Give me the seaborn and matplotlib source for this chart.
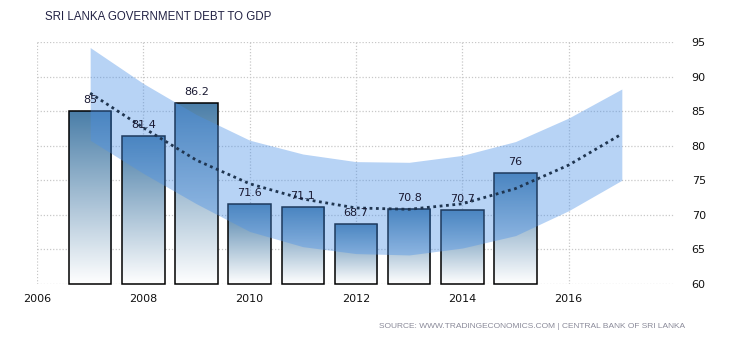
import numpy as np
import pandas as pd
import matplotlib
matplotlib.use("Agg")
import matplotlib.pyplot as plt
import seaborn as sns
from matplotlib.colors import LinearSegmentedColormap

# ---- data ----
years = [2007, 2008, 2009, 2010, 2011, 2012, 2013, 2014, 2015]
debt = [85.0, 81.4, 86.2, 71.6, 71.1, 68.7, 70.8, 70.7, 76.0]
labels = ["85", "81.4", "86.2", "71.6", "71.1", "68.7", "70.8", "70.7", "76"]

trend_years = [2007, 2008, 2009, 2010, 2011, 2012, 2013, 2014, 2015, 2016, 2017]
trend = [87.6, 82.6, 77.9, 74.5, 72.3, 71.0, 70.8, 71.6, 73.8, 77.2, 81.7]
band_upper = [94.2, 89.0, 84.5, 80.8, 78.8, 77.7, 77.6, 78.6, 80.6, 84.0, 88.2]
band_lower = [80.8, 76.0, 71.6, 67.6, 65.4, 64.4, 64.2, 65.2, 67.0, 70.6, 75.0]

xticks = [2006, 2008, 2010, 2012, 2014, 2016]
yticks = [60, 65, 70, 75, 80, 85, 90, 95]
YMIN, YMAX = 60, 95

sns.set_theme(style="white")
plt.rcParams['font.family'] = ['DejaVu Sans']

fig = plt.figure(figsize=(7.3, 3.4), dpi=100)
ax = fig.add_axes([37/730, 1-284/340, (675-37)/730, (284-42)/340])

df = pd.DataFrame({"year": years, "debt": debt})
sns.barplot(data=df, x="year", y="debt", native_scale=True, width=0.8,
            ax=ax, color="#4a7ea8", edgecolor="black", linewidth=1.1, zorder=2)

ax.set_xlim(2006, 2018)
ax.set_ylim(YMIN, YMAX)

cmap = LinearSegmentedColormap.from_list("g", ["#ffffff", "#4a7ea8"])
grad = np.linspace(0, 1, 256).reshape(-1, 1)
for p in list(ax.patches):
    x0, y0 = p.get_x(), p.get_y()
    w, h = p.get_width(), p.get_height()
    top = y0 + h
    p.set_y(YMIN)
    p.set_height(top - YMIN)
    p.set_clip_on(False)
    im = ax.imshow(grad, cmap=cmap, origin="lower", aspect="auto",
                   extent=[x0, x0 + w, YMIN, top], zorder=2, interpolation="bilinear")
    im.set_clip_path(p)
    p.set_facecolor("none")
    p.set_zorder(2.5)
ax.set_xlim(2006, 2018)
ax.set_ylim(YMIN, YMAX)

ax.fill_between(trend_years, band_lower, band_upper, color="#4b91e8", alpha=0.4,
                linewidth=0, zorder=3)
tdf = pd.DataFrame({"year": trend_years, "trend": trend})
sns.lineplot(data=tdf, x="year", y="trend", ax=ax, color="#1f3550",
             linestyle=(0, (1, 1.3)), linewidth=2.0, zorder=4)

for x, v, t in zip(years, debt, labels):
    ax.text(x, v + 0.9, t, ha="center", va="bottom", fontsize=8,
            color="#1a1a33", zorder=5)

ax.set_xticks(xticks)
ax.set_xticklabels([str(t) for t in xticks])
ax.set_yticks(yticks)
ax.yaxis.tick_right()
ax.tick_params(axis="both", length=0, labelsize=8, colors="#111111")
ax.tick_params(axis="x", pad=7)
ax.tick_params(axis="y", pad=12)
ax.grid(True, color="#c8c8c8", linestyle=(0, (1, 1.5)), linewidth=0.9, zorder=0)
ax.set_axisbelow(True)
for s in ax.spines.values():
    s.set_visible(False)
ax.set_xlabel("")
ax.set_ylabel("")

fig.text(45/730, 1-17/340, "SRI LANKA GOVERNMENT DEBT TO GDP", fontsize=8.3,
         color="#222244", va="center", ha="left", family=["Liberation Sans"])
fig.text(685/730, 1-326/340,
         "SOURCE: WWW.TRADINGECONOMICS.COM | CENTRAL BANK OF SRI LANKA",
         fontsize=6, color="#8a8a99", va="center", ha="right",
         family=["Liberation Sans"])

fig.savefig("out.png", dpi=100)
